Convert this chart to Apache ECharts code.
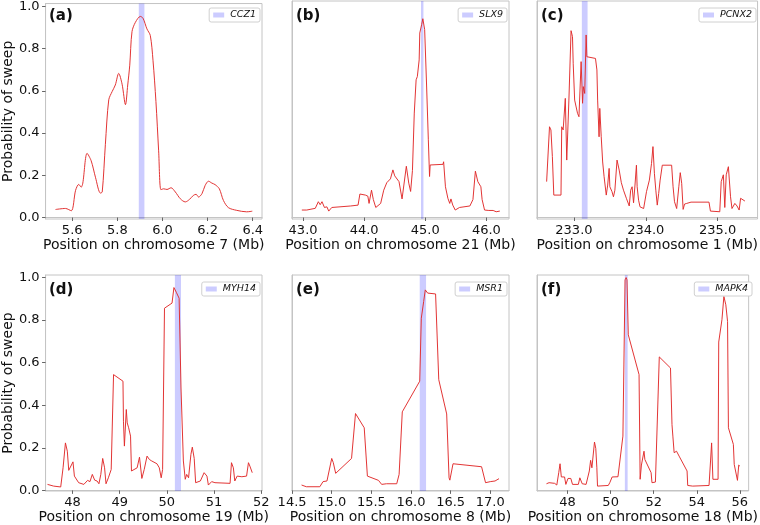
<!DOCTYPE html>
<html>
<head>
<meta charset="utf-8">
<script src="https://cdn.jsdelivr.net/npm/echarts@6/dist/echarts.min.js"></script>
<style>html,body{margin:0;padding:0;background:#fff}#c{width:760px;height:525px}</style>
</head>
<body>
<div id="c"></div>
<script>
// ---------------- data ----------------
const genes = ['CCZ1', 'SLX9', 'PCNX2', 'MYH14', 'MSR1', 'MAPK4'];
const panelTags = ['(a)', '(b)', '(c)', '(d)', '(e)', '(f)'];
const chromosomes = ['7', '21', '1', '19', '8', '18'];

const xA = [5.526,5.570,5.596,5.615,5.629,5.640,5.647,5.666,5.684,5.703,5.725,5.733,5.747,5.762,5.777,5.791,5.806,5.821,5.836,5.846,5.855,5.865,5.880,5.902,5.914,5.931,5.946,5.958,5.971,5.983,5.993,6.005,6.020,6.038,6.057,6.079,6.101,6.120,6.137,6.149,6.160,6.175,6.189,6.204,6.219,6.233,6.252,6.270,6.292,6.329,6.373,6.398];
const yA = [0.038,0.043,0.032,0.129,0.157,0.144,0.163,0.304,0.269,0.191,0.116,0.121,0.347,0.558,0.597,0.628,0.683,0.632,0.535,0.628,0.722,0.881,0.925,0.953,0.944,0.894,0.863,0.745,0.550,0.316,0.132,0.136,0.133,0.141,0.121,0.089,0.074,0.086,0.105,0.110,0.097,0.113,0.152,0.172,0.163,0.156,0.136,0.081,0.047,0.034,0.027,0.030];

const xB = [42.98,43.06,43.20,43.25,43.28,43.31,43.35,43.39,43.42,43.47,43.78,43.90,43.93,44.02,44.06,44.08,44.12,44.15,44.19,44.27,44.32,44.37,44.43,44.47,44.50,44.57,44.62,44.65,44.69,44.70,44.73,44.76,44.79,44.82,44.85,44.87,44.90,44.91,44.94,44.96,44.99,45.02,45.05,45.07,45.08,45.29,45.30,45.33,45.37,45.40,45.42,45.45,45.49,45.56,45.73,45.78,45.82,45.85,45.86,45.88,45.91,45.93,45.97,46.04,46.11,46.16,46.22];
const yB = [0.035,0.035,0.043,0.074,0.060,0.074,0.047,0.050,0.030,0.047,0.054,0.058,0.110,0.105,0.100,0.066,0.128,0.084,0.047,0.066,0.128,0.163,0.181,0.223,0.195,0.168,0.087,0.096,0.240,0.243,0.161,0.122,0.220,0.489,0.645,0.660,0.738,0.864,0.903,0.931,0.880,0.630,0.364,0.192,0.246,0.249,0.261,0.144,0.090,0.066,0.087,0.058,0.035,0.047,0.054,0.084,0.217,0.225,0.168,0.175,0.144,0.084,0.035,0.033,0.033,0.027,0.030];

const xC = [232.62,232.66,232.68,232.70,232.72,232.82,232.83,232.85,232.88,232.90,232.93,232.96,232.98,232.99,233.01,233.05,233.07,233.10,233.12,233.13,233.15,233.17,233.18,233.19,233.30,233.32,233.33,233.35,233.36,233.38,233.40,233.42,233.45,233.47,233.49,233.50,233.53,233.55,233.57,233.60,233.63,233.66,233.69,233.73,233.77,233.79,233.81,233.83,233.85,233.87,233.88,233.90,233.92,233.94,233.97,234.01,234.05,234.08,234.10,234.12,234.14,234.16,234.18,234.20,234.23,234.36,234.38,234.40,234.43,234.46,234.48,234.50,234.52,234.54,234.57,234.63,234.88,234.90,235.03,235.05,235.08,235.10,235.12,235.15,235.17,235.18,235.20,235.24,235.27,235.30,235.32,235.34,235.38];
const yC = [0.168,0.425,0.410,0.285,0.105,0.105,0.425,0.410,0.558,0.269,0.550,0.875,0.847,0.720,0.550,0.488,0.472,0.730,0.535,0.613,0.581,0.855,0.753,0.745,0.745,0.691,0.550,0.378,0.511,0.378,0.260,0.191,0.105,0.152,0.230,0.144,0.121,0.097,0.128,0.269,0.222,0.163,0.128,0.090,0.054,0.128,0.144,0.069,0.152,0.245,0.144,0.081,0.050,0.047,0.042,0.121,0.175,0.253,0.332,0.207,0.128,0.058,0.113,0.175,0.245,0.245,0.144,0.074,0.042,0.144,0.210,0.160,0.038,0.063,0.066,0.072,0.072,0.030,0.027,0.168,0.200,0.047,0.200,0.238,0.245,0.097,0.042,0.066,0.054,0.035,0.090,0.081,0.077];

const xD = [47.47,47.60,47.75,47.80,47.85,47.89,47.92,47.96,48.01,48.04,48.13,48.24,48.32,48.37,48.42,48.47,48.52,48.56,48.60,48.64,48.68,48.71,48.76,48.82,48.87,49.07,49.08,49.10,49.14,49.16,49.19,49.23,49.25,49.37,49.42,49.47,49.52,49.58,49.63,49.68,49.79,49.84,49.88,49.91,49.95,50.11,50.15,50.20,50.26,50.30,50.35,50.39,50.42,50.46,50.51,50.54,50.58,50.61,50.71,50.74,50.79,50.85,50.88,50.95,51.02,51.34,51.37,51.41,51.44,51.49,51.59,51.69,51.73,51.76,51.81];
const yD = [0.028,0.020,0.016,0.106,0.223,0.184,0.094,0.091,0.134,0.067,0.036,0.028,0.047,0.041,0.075,0.048,0.044,0.031,0.075,0.150,0.106,0.031,0.059,0.098,0.544,0.513,0.325,0.208,0.380,0.317,0.294,0.255,0.091,0.106,0.156,0.056,0.098,0.161,0.145,0.138,0.125,0.106,0.059,0.098,0.856,0.880,0.953,0.931,0.903,0.481,0.138,0.052,0.075,0.059,0.169,0.203,0.150,0.036,0.044,0.044,0.083,0.067,0.025,0.041,0.036,0.033,0.130,0.106,0.044,0.067,0.064,0.067,0.130,0.114,0.083];

const xE = [14.62,14.68,14.85,14.89,14.94,15.00,15.02,15.05,15.25,15.30,15.41,15.45,15.59,15.63,15.69,15.82,15.85,15.89,16.11,16.13,16.16,16.18,16.21,16.31,16.35,16.45,16.48,16.49,16.53,16.89,16.94,17.00,17.06,17.11];
const yE = [0.025,0.017,0.017,0.041,0.044,0.150,0.130,0.080,0.150,0.361,0.294,0.067,0.047,0.028,0.031,0.031,0.075,0.369,0.513,0.809,0.888,0.942,0.927,0.923,0.520,0.359,0.059,0.048,0.125,0.111,0.036,0.041,0.044,0.055];

const xF = [47.02,47.14,47.40,47.50,47.59,47.65,47.71,47.80,47.86,47.92,48.02,48.15,48.23,48.50,48.57,48.68,48.86,48.95,49.01,49.07,49.13,49.25,49.31,49.36,49.39,49.89,49.96,50.07,50.34,50.57,50.67,50.72,50.76,50.82,51.32,51.37,51.43,51.55,51.59,51.88,51.92,52.08,52.26,52.78,52.85,52.89,52.95,53.06,53.18,53.55,53.58,53.81,54.57,54.64,54.69,54.75,54.99,55.02,55.17,55.26,55.35,55.43,55.47,55.70,55.74,55.80,55.89,55.95,56.00];
const yF = [0.031,0.036,0.033,0.025,0.083,0.125,0.063,0.056,0.063,0.028,0.056,0.056,0.028,0.028,0.059,0.031,0.028,0.023,0.091,0.141,0.106,0.227,0.197,0.106,0.020,0.023,0.036,0.063,0.064,0.255,0.989,1.000,0.989,0.731,0.544,0.052,0.119,0.184,0.145,0.083,0.036,0.039,0.627,0.575,0.309,0.255,0.177,0.184,0.161,0.091,0.023,0.020,0.023,0.138,0.223,0.052,0.052,0.697,0.802,0.911,0.872,0.794,0.294,0.216,0.122,0.119,0.047,0.119,0.114];

// gene regions (Mb)
const bandA = [5.895, 5.920];
const bandB = [44.93, 44.97];
const bandC = [233.11, 233.19];
const bandD = [50.17, 50.30];
const bandE = [16.11, 16.19];
const bandF = [50.66, 50.79];

// tick values and labels
const ticksA = [5.6, 5.8, 6.0, 6.2, 6.4];
const tickLabelsA = ['5.6', '5.8', '6.0', '6.2', '6.4'];
const ticksB = [43, 44, 45, 46];
const tickLabelsB = ['43.0', '44.0', '45.0', '46.0'];
const ticksC = [233, 234, 235];
const tickLabelsC = ['233.0', '234.0', '235.0'];
const ticksD = [48, 49, 50, 51, 52];
const tickLabelsD = ['48', '49', '50', '51', '52'];
const ticksE = [14.5, 15, 15.5, 16, 16.5, 17];
const tickLabelsE = ['14.5', '15.0', '15.5', '16.0', '16.5', '17.0'];
const ticksF = [48, 50, 52, 54, 56];
const tickLabelsF = ['48', '50', '52', '54', '56'];
const yTicks = [0, 0.2, 0.4, 0.6, 0.8, 1.0];
const yTickLabels = ['0.0', '0.2', '0.4', '0.6', '0.8', '1.0'];

// ---------------- layout ----------------
const panels = [
  {x: xA, y: yA, band: bandA, ticks: ticksA, labels: tickLabelsA, range: [5.482, 6.441], grid: [45, 1, 217, 218], yr: [-0.007, 1.014], yLab: true},
  {x: xB, y: yB, band: bandB, ticks: ticksB, labels: tickLabelsB, range: [42.819, 46.37], grid: [292, 1, 217, 218], yr: [-0.007, 1.014], yLab: false},
  {x: xC, y: yC, band: bandC, ticks: ticksC, labels: tickLabelsC, range: [232.486, 235.556], grid: [537, 1, 221, 218], yr: [-0.007, 1.014], yLab: false},
  {x: xD, y: yD, band: bandD, ticks: ticksD, labels: tickLabelsD, range: [47.429, 52.017], grid: [45, 275, 217, 216], yr: [-0.003, 1.012], yLab: true},
  {x: xE, y: yE, band: bandE, ticks: ticksE, labels: tickLabelsE, range: [14.499, 17.236], grid: [292, 275, 217, 216], yr: [-0.003, 1.012], yLab: false},
  {x: xF, y: yF, band: bandF, ticks: ticksF, labels: tickLabelsF, range: [46.58, 56.41], grid: [537, 275, 217, 216], yr: [-0.003, 1.012], yLab: false}
];

const FONT = "'DejaVu Sans', Verdana, sans-serif";
const SPINE = '#c4c4c4';
const BAND = 'rgba(0,0,255,0.2)';
const LINE = '#e02a2a';

const grids = [], xAxes = [], yAxes = [], series = [], legends = [], graphics = [];

panels.forEach((p, i) => {
  const [gl, gt, gw, gh] = p.grid;
  grids.push({left: gl, top: gt, width: gw, height: gh, show: true, borderColor: SPINE, borderWidth: 1, backgroundColor: '#fff', containLabel: false});
  const lbl = p.labels;
  const tk = p.ticks;
  xAxes.push({
    type: 'value', gridIndex: i, min: p.range[0], max: p.range[1],
    axisLine: {show: true, lineStyle: {color: SPINE}},
    axisTick: {show: true, customValues: tk, length: 3.5, lineStyle: {color: '#666'}},
    axisLabel: {show: true, customValues: tk, margin: 5, fontSize: 13, color: '#111', fontFamily: FONT,
      formatter: v => { const k = tk.findIndex(t => Math.abs(t - v) < 1e-6); return k >= 0 ? lbl[k] : ''; }},
    splitLine: {show: false},
    name: 'Position on chromosome ' + chromosomes[i] + ' (Mb)',
    nameLocation: 'middle', nameGap: 18,
    nameTextStyle: {fontSize: 14, color: '#111', fontFamily: FONT}
  });
  yAxes.push({
    type: 'value', gridIndex: i, min: p.yr[0], max: p.yr[1],
    axisLine: {show: true, lineStyle: {color: SPINE}},
    axisTick: {show: p.yLab, customValues: yTicks, length: 3.5, lineStyle: {color: '#666'}},
    axisLabel: {show: p.yLab, customValues: yTicks, margin: 6, fontSize: 13, color: '#111', fontFamily: FONT,
      formatter: v => { const k = yTicks.findIndex(t => Math.abs(t - v) < 1e-6); return k >= 0 ? yTickLabels[k] : ''; }},
    splitLine: {show: false},
    name: p.yLab ? 'Probability of sweep' : '',
    nameLocation: 'middle', nameGap: 30,
    nameTextStyle: {fontSize: 14, color: '#111', fontFamily: FONT}
  });
  // gene band series
  series.push({
    type: 'line', name: genes[i], xAxisIndex: i, yAxisIndex: i, data: [], z: 1,
    itemStyle: {color: BAND}, lineStyle: {color: BAND},
    markArea: {silent: true, itemStyle: {color: BAND}, data: [[{xAxis: p.band[0]}, {xAxis: p.band[1]}]]}
  });
  // sweep probability line
  const n = Math.min(p.x.length, p.y.length);
  const pts = [];
  for (let k = 0; k < n; k++) pts.push([p.x[k], p.y[k]]);
  series.push({
    type: 'line', name: 'prob' + i, xAxisIndex: i, yAxisIndex: i, data: pts, z: 3,
    showSymbol: false, symbol: 'none', smooth: i === 0 ? 0.3 : false,
    lineStyle: {color: LINE, width: 0.95}, itemStyle: {color: LINE}, animation: false
  });
  legends.push({
    data: [{name: genes[i], icon: 'rect', itemStyle: {color: BAND}}],
    right: 760 - (gl + gw) + 2, top: gt + 7,
    orient: 'horizontal', itemWidth: 11, itemHeight: 5, itemGap: 4,
    padding: [2, 4, 2, 4], borderColor: '#d0d0d0', borderWidth: 1, borderRadius: 2,
    backgroundColor: '#fff', selectedMode: false,
    textStyle: {fontSize: 9.5, fontStyle: 'italic', color: '#111', fontFamily: FONT, padding: [0, 0, 0, 1]}
  });
  graphics.push({
    type: 'text', left: gl + 4, top: gt + 8, z: 10,
    style: {text: panelTags[i], font: "bold 15px " + FONT, fill: '#111'}
  });
});

const chart = echarts.init(document.getElementById('c'), null, {renderer: 'canvas'});
chart.setOption({
  animation: false,
  backgroundColor: '#fff',
  grid: grids, xAxis: xAxes, yAxis: yAxes, series: series, legend: legends, graphic: graphics
});
</script>
</body>
</html>
